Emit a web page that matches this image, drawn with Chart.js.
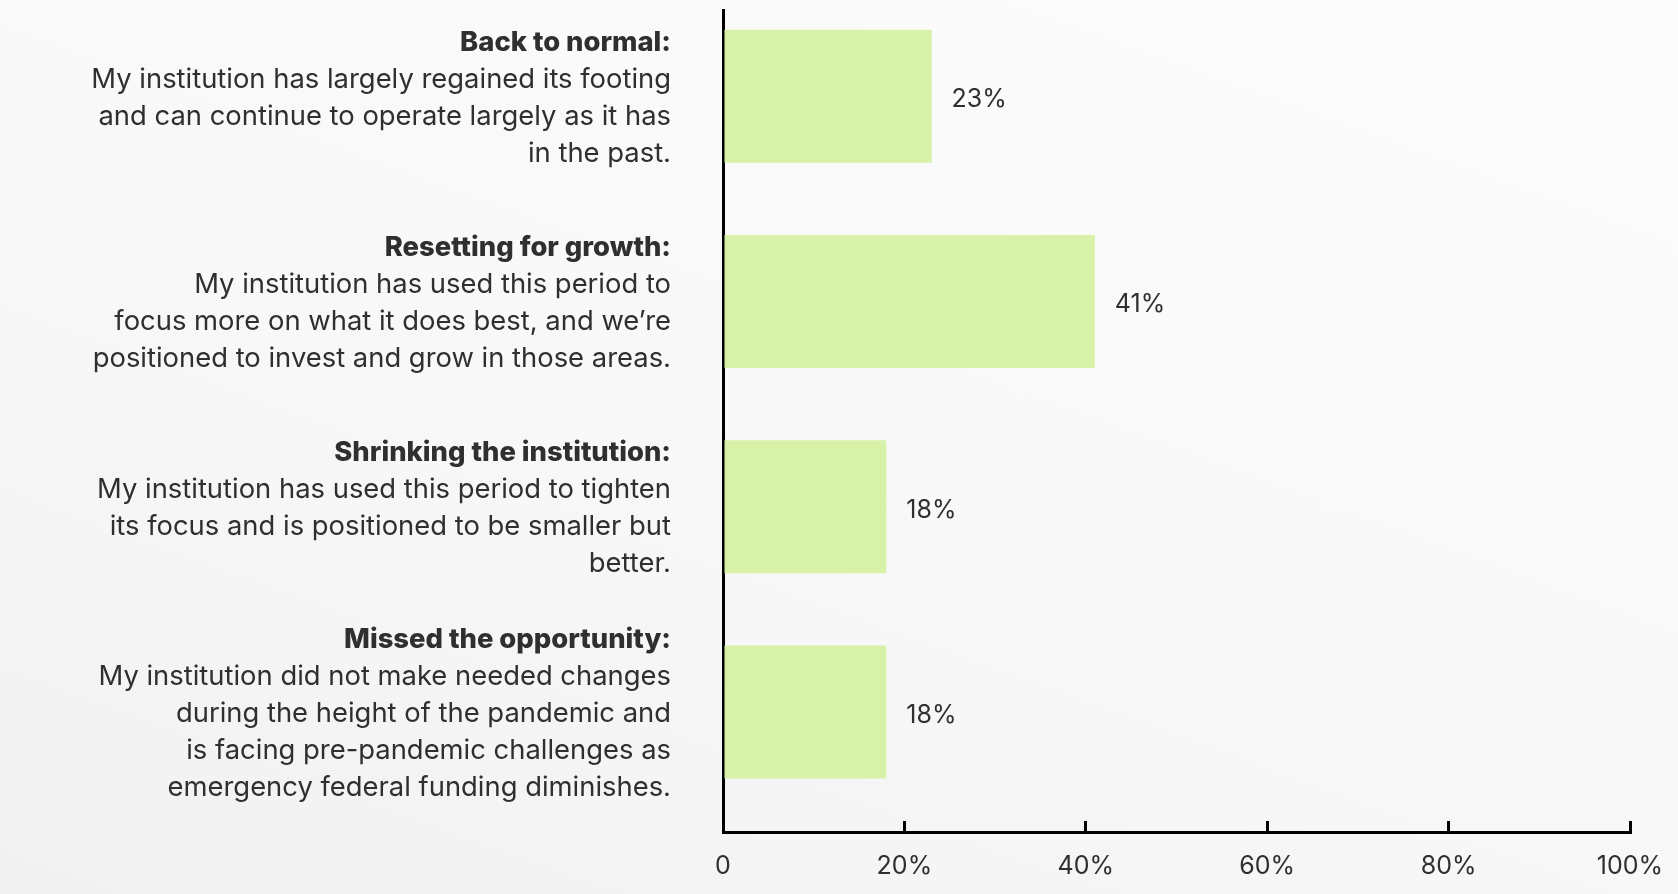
<!DOCTYPE html>
<html>
<head>
<meta charset="utf-8">
<script src="https://cdn.jsdelivr.net/npm/chart.js@4"></script>
<style>
  html, body { margin: 0; padding: 0; }
  body { width: 1678px; height: 894px; background: linear-gradient(20deg, #f1f1f1 0%, #f8f8f8 45%, #fcfcfc 100%); }
  #wrap { position: relative; width: 1678px; height: 894px; }
</style>
</head>
<body>
<div id="wrap"><canvas id="c" width="1678" height="894"></canvas></div>
<script>
const titles = [
  "Back to normal:",
  "Resetting for growth:",
  "Shrinking the institution:",
  "Missed the opportunity:"
];
const descriptions = [
  ["My institution has largely regained its footing", "and can continue to operate largely as it has", "in the past."],
  ["My institution has used this period to", "focus more on what it does best, and we\u2019re", "positioned to invest and grow in those areas."],
  ["My institution has used this period to tighten", "its focus and is positioned to be smaller but", "better."],
  ["My institution did not make needed changes", "during the height of the pandemic and", "is facing pre-pandemic challenges as", "emergency federal funding diminishes."]
];
const values = [23, 41, 18, 18];
const xTicks = [0, 20, 40, 60, 80, 100];
const xTickLabels = ["0", "20%", "40%", "60%", "80%", "100%"];

const FONT = "Inter, Roboto, 'Liberation Sans', sans-serif";
const TEXT = "#2f2f2f";
const LABEL_SIZE = 27.4;
const LINE_H = 37;

const titleLabel = (i) => [titles[i]].concat(descriptions[i].map(() => ""));
const descLabel = (i) => [""].concat(descriptions[i]);

const valueLabels = {
  id: "valueLabels",
  afterLayout(chart) {
    // let the bold title axis share the label band of the description axis
    const t = chart.scales.yTitle, y = chart.scales.y;
    t.left = y.left; t.right = y.right; t.width = y.width;
  },
  afterDatasetsDraw(chart) {
    const ctx = chart.ctx;
    const meta = chart.getDatasetMeta(0);
    ctx.save();
    ctx.font = "25px " + FONT;
    ctx.fillStyle = TEXT;
    ctx.textAlign = "left";
    ctx.textBaseline = "alphabetic";
    meta.data.forEach((bar, i) => {
      ctx.fillText(values[i] + "%", bar.x + 20, bar.y + 11);
    });
    ctx.restore();
  }
};

const yCommon = () => ({
  type: "linear",
  reverse: true,
  offset: false,
  min: -0.42,
  max: 3.585,
  afterBuildTicks: (s) => { s.ticks = values.map((_, i) => ({ value: i })); },
});

new Chart(document.getElementById("c"), {
  type: "bar",
  data: {
    datasets: [{
      data: values.map((v, i) => ({ x: v, y: i })),
      backgroundColor: "#d7f1a9",
      borderWidth: 0,
      categoryPercentage: 1,
      barPercentage: 0.648,
      yAxisID: "y",
      xAxisID: "x"
    }]
  },
  options: {
    indexAxis: "y",
    responsive: false,
    animation: false,
    events: [],
    layout: { padding: { top: 10, right: 48, left: 0, bottom: 0 } },
    plugins: { legend: { display: false }, tooltip: { enabled: false } },
    scales: {
      x: {
        type: "linear",
        position: "bottom",
        min: 0,
        max: 100,
        afterBuildTicks: (s) => { s.ticks = xTicks.map(v => ({ value: v })); },
        grid: { display: true, drawOnChartArea: false, drawTicks: true, tickLength: -11, color: "#000", lineWidth: 3 },
        border: { display: true, color: "#000", width: 3 },
        ticks: {
          color: TEXT,
          font: { family: FONT, size: 25 },
          padding: 30,
          maxRotation: 0,
          callback: (v, i) => xTickLabels[i]
        },
        afterFit: (s) => { s.height = 62; s.paddingLeft = 0; s.paddingRight = 0; }
      },
      y: Object.assign(yCommon(), {
        position: "left",
        weight: 1,
        grid: { display: false, drawTicks: false },
        border: { display: true, color: "#000", width: 3 },
        ticks: {
          color: TEXT,
          padding: 52,
          labelOffset: 2,
          autoSkip: false,
          font: { family: FONT, size: LABEL_SIZE, lineHeight: LINE_H / LABEL_SIZE },
          callback: (v) => descLabel(v)
        },
        afterFit: (s) => { s.width = 723; s.paddingTop = 0; s.paddingBottom = 0; }
      }),
      yTitle: Object.assign(yCommon(), {
        position: "left",
        weight: 0,
        grid: { display: false, drawTicks: false },
        border: { display: false },
        ticks: {
          color: TEXT,
          padding: 52,
          labelOffset: 2,
          autoSkip: false,
          font: { family: FONT, size: LABEL_SIZE, weight: 800, lineHeight: LINE_H / LABEL_SIZE },
          callback: (v) => titleLabel(v)
        },
        afterFit: (s) => { s.width = 0; s.paddingTop = 0; s.paddingBottom = 0; }
      })
    }
  },
  plugins: [valueLabels]
});
</script>
</body>
</html>
